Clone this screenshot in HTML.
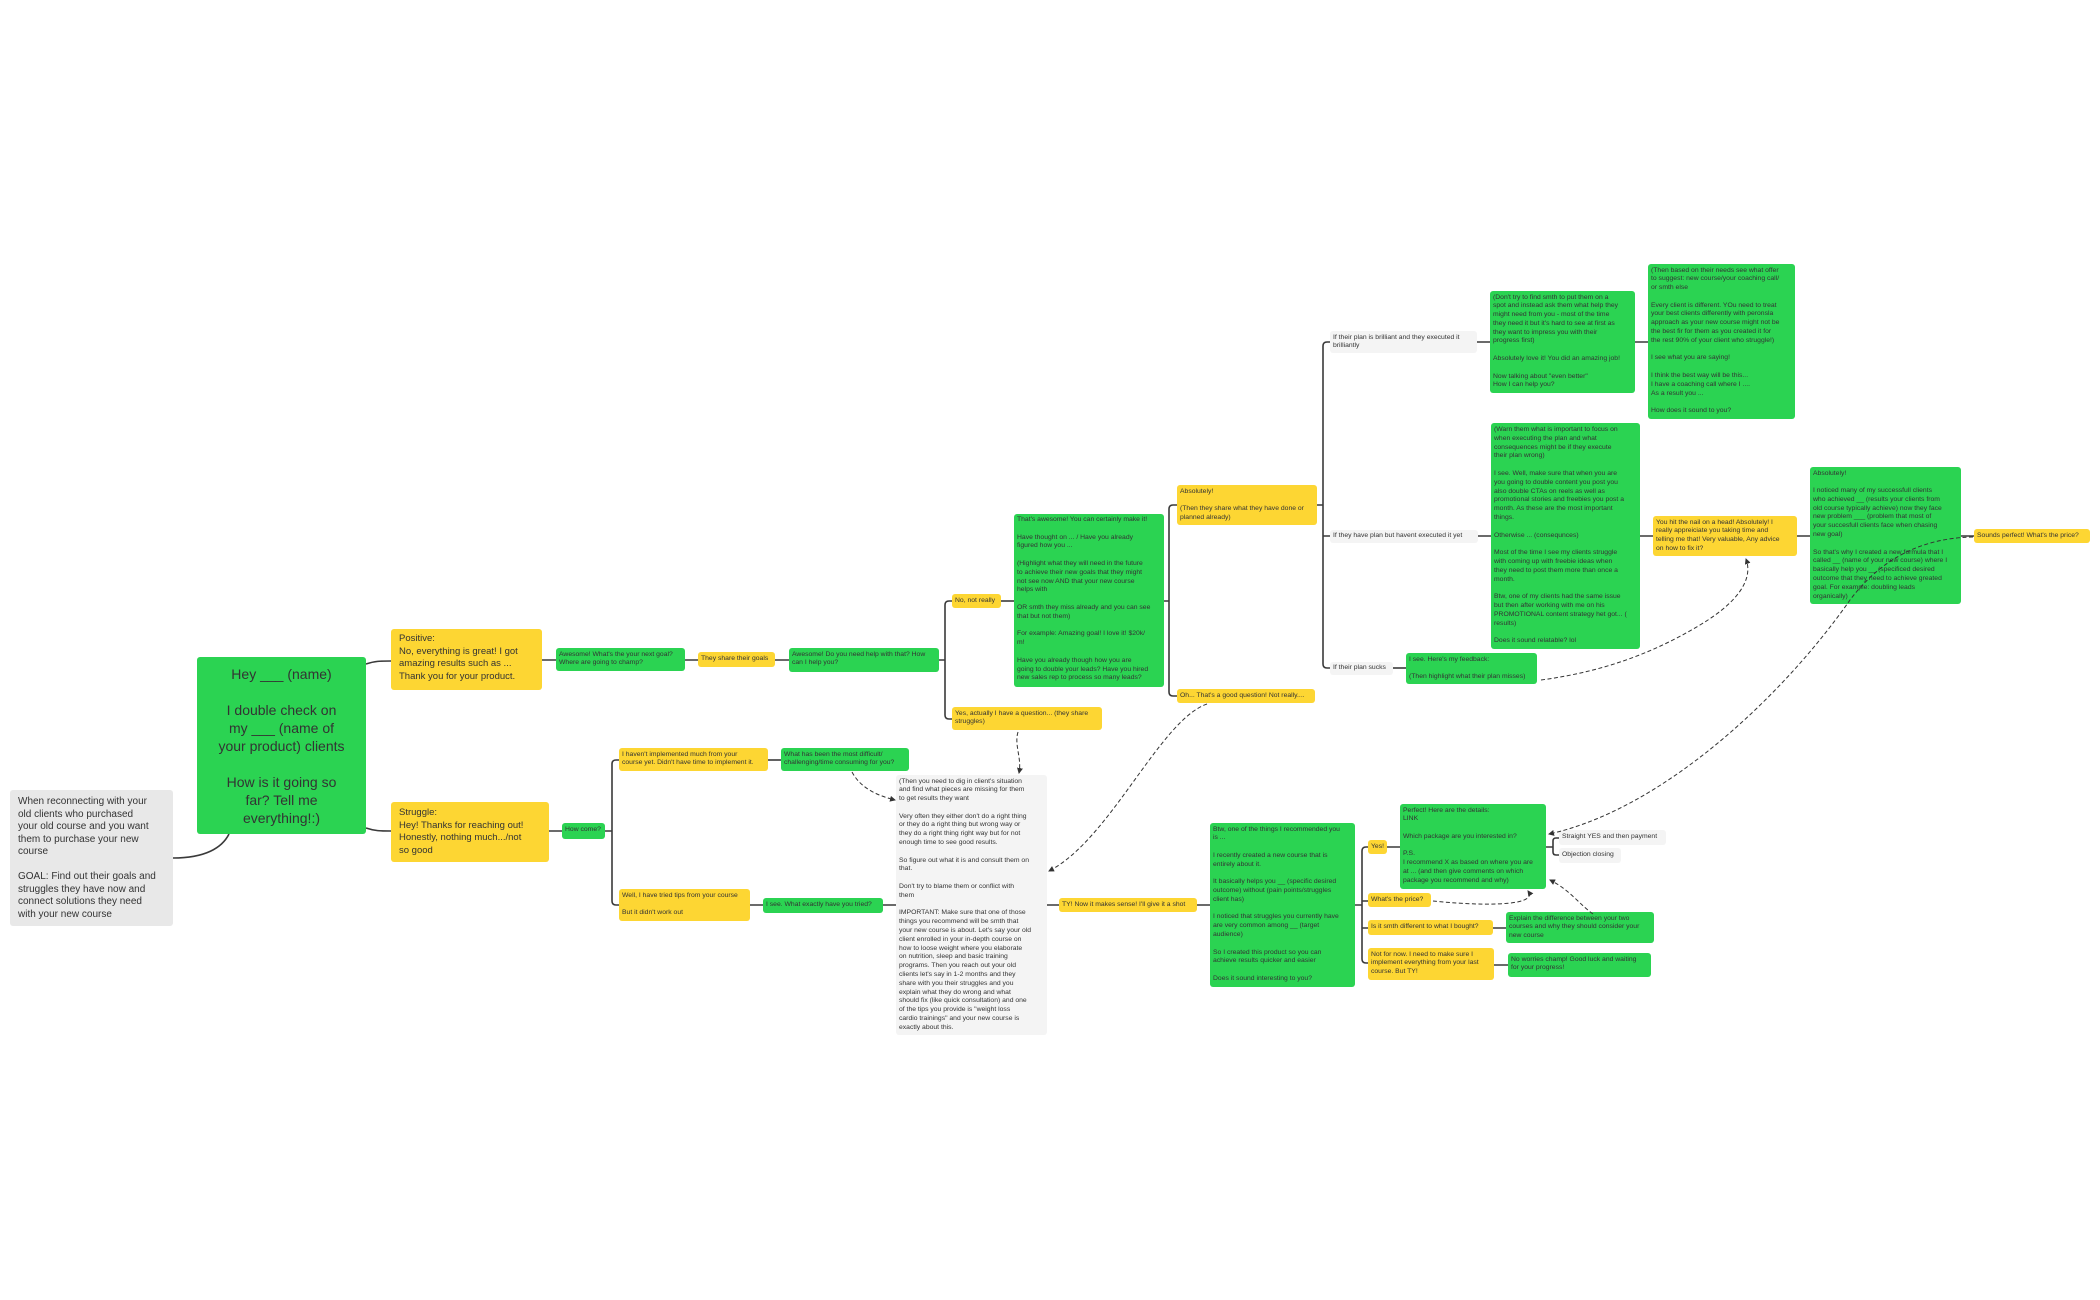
<!DOCTYPE html>
<html><head><meta charset="utf-8"><style>
html,body{margin:0;padding:0;background:#fff;}
body{width:2100px;height:1300px;position:relative;overflow:hidden;font-family:"Liberation Sans",sans-serif;color:#333;}
.n{position:absolute;box-sizing:border-box;border-radius:3px;padding:2.5px 3px;font-size:6.8px;line-height:8.8px;white-space:nowrap;overflow:visible;}
.g{background:#2bd352;}
.y{background:#fdd633;}
.l{background:#f4f4f4;}
svg{position:absolute;left:0;top:0;}
#top{z-index:5;pointer-events:none;}
</style></head><body>
<svg width="2100" height="1300" viewBox="0 0 2100 1300">
<g fill="none" stroke="#3a3a3a" stroke-width="1.6">
<path d="M173,858 C205,858 222,848 229,834"/>
<path d="M366,664 C375,661 380,661 391,661"/>
<path d="M366,828 C375,831 380,831 391,831"/>
<path d="M542,660 H556 M685,660 H698 M775,660 H789"/>
<path d="M939,660 H945 M952,601 H949 Q945,601 945,605 V715 Q945,719 949,719 H952"/>
<path d="M1001,601 H1014"/>
<path d="M1164,601 H1169 M1177,505 H1173 Q1169,505 1169,509 V692 Q1169,696 1173,696 H1177"/>
<path d="M1317,505 H1323 M1330,342 H1327 Q1323,342 1323,346 V664 Q1323,668 1327,668 H1330 M1323,536 H1330"/>
<path d="M1477,342 H1490 M1635,342 H1648"/>
<path d="M1478,536 H1491 M1640,536 H1653 M1797,536 H1810 M1961,536 H1974"/>
<path d="M1393,668 H1406"/>
<path d="M549,831 H562 M605,831 H612 M619,760 H616 Q612,760 612,764 V901 Q612,905 616,905 H619"/>
<path d="M768,760 H781"/>
<path d="M750,905 H763 M883,905 H896 M1047,905 H1059 M1197,905 H1210"/>
<path d="M1355,905 H1362 M1368,847 H1366 Q1362,847 1362,851 V959 Q1362,963 1366,963 H1368 M1362,901 H1368 M1362,928 H1368"/>
<path d="M1387,847 H1400 M1546,847 H1553 M1559,838 H1556 Q1553,838 1553,841 V852 Q1553,855 1556,855 H1559"/>
<path d="M1493,928 H1506 M1494,965 H1508"/>
</g>
</svg>
<svg id="top" width="2100" height="1300" viewBox="0 0 2100 1300">
<defs><marker id="a" markerWidth="6" markerHeight="6" refX="5" refY="3" orient="auto" markerUnits="userSpaceOnUse"><path d="M0,0 L6,3 L0,6 z" fill="#333"/></marker></defs>
<g fill="none" stroke="#333" stroke-width="1" stroke-dasharray="4 2.5">
<path d="M1541,680 C1600,672 1650,655 1700,625 C1745,598 1752,575 1746,559" marker-end="url(#a)"/>
<path d="M1973,537 C1920,538 1880,560 1850,600 C1780,700 1660,810 1549,834" marker-end="url(#a)"/>
<path d="M1433,901 C1470,905 1540,908 1528,891" marker-end="url(#a)"/>
<path d="M1593,914 C1580,905 1570,890 1550,880" marker-end="url(#a)"/>
<path d="M1018,732 C1014,745 1022,758 1019,773" marker-end="url(#a)"/>
<path d="M852,772 C860,787 875,795 895,800" marker-end="url(#a)"/>
<path d="M1207,704 C1160,720 1110,840 1049,871" marker-end="url(#a)"/>
</g>
</svg>

<div class="n" style="left:10px;top:790px;width:163px;height:136px;background:#e8e8e8;font-size:10px;line-height:12.5px;padding:6px 8px;">When reconnecting with your<br>old clients who purchased<br>your old course and you want<br>them to purchase your new<br>course<br><br>GOAL: Find out their goals and<br>struggles they have now and<br>connect solutions they need<br>with your new course</div>

<div class="n g" style="left:197px;top:657px;width:169px;height:177px;font-size:14px;line-height:18px;text-align:center;padding-top:8px;">Hey ___ (name)<br><br>I double check on<br>my ___ (name of<br>your product) clients<br><br>How is it going so<br>far? Tell me<br>everything!:)</div>

<div class="n y" style="left:391px;top:629px;width:151px;height:61px;font-size:9.5px;line-height:12.5px;padding:4px 8px;">Positive:<br>No, everything is great! I got<br>amazing results such as ...<br>Thank you for your product.</div>
<div class="n y" style="left:391px;top:802px;width:158px;height:60px;font-size:9.5px;line-height:12.5px;padding:5px 8px;">Struggle:<br>Hey! Thanks for reaching out!<br>Honestly, nothing much.../not<br>so good</div>

<div class="n g" style="left:556px;top:648px;width:129px;height:23px;">Awesome! What's the your next goal?<br>Where are going to champ?</div>
<div class="n y" style="left:698px;top:652px;width:77px;height:15px;padding-top:3px;">They share their goals</div>
<div class="n g" style="left:789px;top:648px;width:150px;height:24px;">Awesome! Do you need help with that? How<br>can I help you?</div>
<div class="n y" style="left:952px;top:594px;width:49px;height:14px;">No, not really</div>
<div class="n g" style="left:1014px;top:514px;width:150px;height:173px;padding-top:2px;">That's awesome! You can certainly make it!<br><br>Have thought on ... / Have you already<br>figured how you ...<br><br>(Highlight what they will need in the future<br>to achieve their new goals that they might<br>not see now AND that your new course<br>helps with<br><br>OR smth they miss already and you can see<br>that but not them)<br><br>For example: Amazing goal! I love it! $20k/<br>m!<br><br>Have you already though how you are<br>going to double your leads? Have you hired<br>new sales rep to process so many leads?</div>
<div class="n y" style="left:952px;top:707px;width:150px;height:23px;">Yes, actually I have a question... (they share<br>struggles)</div>

<div class="n y" style="left:1177px;top:485px;width:140px;height:40px;">Absolutely!<br><br>(Then they share what they have done or<br>planned already)</div>
<div class="n y" style="left:1177px;top:689px;width:138px;height:14px;">Oh... That's a good question! Not really....</div>

<div class="n l" style="left:1330px;top:331px;width:147px;height:22px;">If their plan is brilliant and they executed it<br>brilliantly</div>
<div class="n l" style="left:1330px;top:530px;width:148px;height:13px;padding-top:2px;">If they have plan but havent executed it yet</div>
<div class="n l" style="left:1330px;top:662px;width:63px;height:13px;padding-top:2px;">If their plan sucks</div>

<div class="n g" style="left:1490px;top:291px;width:145px;height:102px;">(Don't try to find smth to put them on a<br>spot and instead ask them what help they<br>might need from you - most of the time<br>they need it but it's hard to see at first as<br>they want to impress you with their<br>progress first)<br><br>Absolutely love it! You did an amazing job!<br><br>Now talking about "even better"<br>How I can help you?</div>
<div class="n g" style="left:1648px;top:264px;width:147px;height:155px;">(Then based on their needs see what offer<br>to suggest: new course/your coaching call/<br>or smth else<br><br>Every client is different. YOu need to treat<br>your best clients differently with peronsla<br>approach as your new course might not be<br>the best fir for them as you created it for<br>the rest 90% of your client who struggle!)<br><br>I see what you are saying!<br><br>I think the best way will be this...<br>I have a coaching call where I ....<br>As a result you ...<br><br>How does it sound to you?</div>

<div class="n g" style="left:1491px;top:423px;width:149px;height:226px;padding-top:3px;">(Warn them what is important to focus on<br>when executing the plan and what<br>consequences might be if they execute<br>their plan wrong)<br><br>I see. Well, make sure that when you are<br>you going to double content you post you<br>also double CTAs on reels as well as<br>promotional stories and freebies you post a<br>month. As these are the most important<br>things.<br><br>Otherwise ... (consequnces)<br><br>Most of the time I see my clients struggle<br>with coming up with freebie ideas when<br>they need to post them more than once a<br>month.<br><br>Btw, one of my clients had the same issue<br>but then after working with me on his<br>PROMOTIONAL content strategy het got... (<br>results)<br><br>Does it sound relatable? lol</div>

<div class="n g" style="left:1406px;top:653px;width:131px;height:31px;">I see. Here's my feedback:<br><br>(Then highlight what their plan misses)</div>
<div class="n y" style="left:1653px;top:516px;width:144px;height:40px;">You hit the nail on a head! Absolutely! I<br>really appreiciate you taking time and<br>telling me that! Very valuable, Any advice<br>on how to fix it?</div>
<div class="n g" style="left:1810px;top:467px;width:151px;height:137px;">Absolutely!<br><br>I noticed many of my successfull clients<br>who achieved __ (results your clients from<br>old course typically achieve) now they face<br>new problem ___ (problem that most of<br>your succesfull clients face when chasing<br>new goal)<br><br>So that's why I created a new formula that I<br>called __ (name of your new course) where I<br>basically help you __ (specificed desired<br>outcome that they need to achieve greated<br>goal. For example: doubling leads<br>organically)</div>
<div class="n y" style="left:1974px;top:529px;width:116px;height:14px;">Sounds perfect! What's the price?</div>

<div class="n g" style="left:562px;top:823px;width:43px;height:16px;padding-top:3px;">How come?</div>
<div class="n y" style="left:619px;top:748px;width:149px;height:23px;">I haven't implemented much from your<br>course yet. Didn't have time to implement it.</div>
<div class="n g" style="left:781px;top:748px;width:128px;height:23px;">What has been the most difficult/<br>challenging/time consuming for you?</div>
<div class="n y" style="left:619px;top:889px;width:131px;height:32px;">Well, I have tried tips from your course<br><br>But it didn't work out</div>
<div class="n g" style="left:763px;top:898px;width:120px;height:15px;padding-top:3px;">I see. What exactly have you tried?</div>

<div class="n l" style="left:896px;top:775px;width:151px;height:260px;">(Then you need to dig in client's situation<br>and find what pieces are missing for them<br>to get results they want<br><br>Very often they either don't do a right thing<br>or they do a right thing but wrong way or<br>they do a right thing right way but for not<br>enough time to see good results.<br><br>So figure out what it is and consult them on<br>that.<br><br>Don't try to blame them or conflict with<br>them<br><br>IMPORTANT: Make sure that one of those<br>things you recommend will be smth that<br>your new course is about. Let's say your old<br>client enrolled in your in-depth course on<br>how to loose weight where you elaborate<br>on nutrition, sleep and basic training<br>programs. Then you reach out your old<br>clients let's say in 1-2 months and they<br>share with you their struggles and you<br>explain what they do wrong and what<br>should fix (like quick consultation) and one<br>of the tips you provide is "weight loss<br>cardio trainings" and your new course is<br>exactly about this.</div>

<div class="n y" style="left:1059px;top:898px;width:138px;height:14px;">TY! Now it makes sense! I'll give it a shot</div>
<div class="n g" style="left:1210px;top:823px;width:145px;height:164px;">Btw, one of the things I recommended you<br>is ...<br><br>I recently created a new course that is<br>entirely about it.<br><br>It basically helps you __ (specific desired<br>outcome) without (pain points/struggles<br>client has)<br><br>I noticed that struggles you currently have<br>are very common among __ (target<br>audience)<br><br>So I created this product so you can<br>achieve results quicker and easier<br><br>Does it sound interesting to you?</div>

<div class="n y" style="left:1368px;top:840px;width:19px;height:14px;">Yes!</div>
<div class="n g" style="left:1400px;top:804px;width:146px;height:85px;">Perfect! Here are the details:<br>LINK<br><br>Which package are you interested in?<br><br>P.S.<br>I recommend X as based on where you are<br>at ... (and then give comments on which<br>package you recommend and why)</div>
<div class="n l" style="left:1559px;top:830px;width:107px;height:15px;padding-top:3px;">Straight YES and then payment</div>
<div class="n l" style="left:1559px;top:848px;width:62px;height:15px;padding-top:3px;">Objection closing</div>
<div class="n y" style="left:1368px;top:893px;width:63px;height:14px;">What's the price?</div>
<div class="n y" style="left:1368px;top:920px;width:125px;height:15px;padding-top:3px;">Is it smth different to what I bought?</div>
<div class="n g" style="left:1506px;top:912px;width:148px;height:31px;">Explain the difference between your two<br>courses and why they should consider your<br>new course</div>
<div class="n y" style="left:1368px;top:948px;width:126px;height:32px;">Not for now. I need to make sure I<br>implement everything from your last<br>course. But TY!</div>
<div class="n g" style="left:1508px;top:953px;width:143px;height:24px;">No worries champ! Good luck and waiting<br>for your progress!</div>
</body></html>
